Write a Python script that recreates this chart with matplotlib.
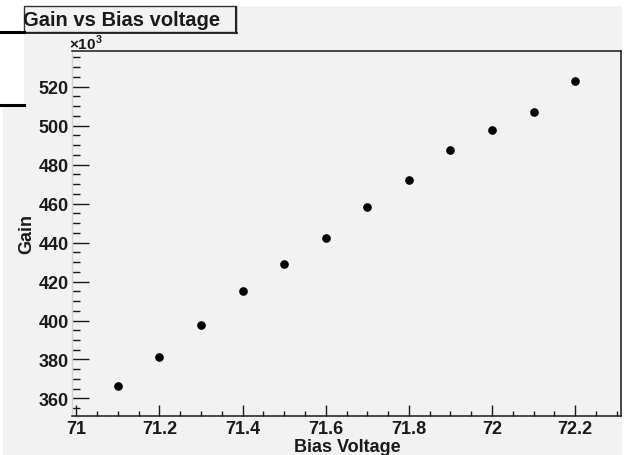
import matplotlib
matplotlib.use("Agg")
import matplotlib.pyplot as plt
import matplotlib.ticker as ticker
from matplotlib.patches import Rectangle
from matplotlib.lines import Line2D

# data (gain in units of 10^3)
bias_voltage = [71.1, 71.2, 71.3, 71.4, 71.5, 71.6, 71.7, 71.8, 71.9, 72.0, 72.1, 72.2]
gain_k = [366.6, 381.4, 397.5, 415.2, 429.0, 442.4, 458.4, 472.3, 487.6, 497.7, 507.1, 522.7]

title = "Gain vs Bias voltage"
xlabel = "Bias Voltage"
ylabel = "Gain"

W, H = 625, 456
PAD = "#f2f2f2"
INK = "#1a1a1a"

plt.rcParams['font.family'] = ['Liberation Sans', 'DejaVu Sans']
plt.rcParams['font.weight'] = 'bold'
plt.rcParams['mathtext.fontset'] = 'custom'
plt.rcParams['mathtext.rm'] = 'Liberation Sans:bold'
plt.rcParams['mathtext.bf'] = 'Liberation Sans:bold'

fig = plt.figure(figsize=(W / 100, H / 100), dpi=100)
fig.patch.set_facecolor("white")


def px(x, y):
    # pixel (from top-left) -> figure fraction
    return x / W, 1 - y / H


# grey pad behind everything
fig.patches.append(Rectangle(px(3, 456), 619 / W, 449 / H, transform=fig.transFigure,
                             facecolor=PAD, edgecolor="none", zorder=-10))
# white corner left of the title box
fig.patches.append(Rectangle(px(0, 33), 24 / W, 33 / H, transform=fig.transFigure,
                             facecolor="white", edgecolor="none", zorder=-9))

l, t = 72, 52
r, b = 621, 417
ax = fig.add_axes([l / W, 1 - b / H, (r - l) / W, (b - t) / H])
ax.set_zorder(1)
ax.set_facecolor(PAD)

ax.plot(bias_voltage, gain_k, "o", color="black", markersize=5.2, zorder=3)

ax.set_xlim(70.99, 72.31)
ax.set_ylim(351.0, 538.3)

ax.xaxis.set_major_locator(ticker.MultipleLocator(0.2))
ax.xaxis.set_minor_locator(ticker.MultipleLocator(0.05))
ax.xaxis.set_major_formatter(ticker.FuncFormatter(lambda v, p: "%g" % round(v, 2)))
ax.yaxis.set_major_locator(ticker.MultipleLocator(20))
ax.yaxis.set_minor_locator(ticker.MultipleLocator(5))
ax.yaxis.set_major_formatter(ticker.FuncFormatter(lambda v, p: "%d" % v))

ax.tick_params(axis="x", which="major", direction="in", length=8, width=1,
               color=INK, labelsize=13, pad=3, labelcolor=INK)
ax.tick_params(axis="x", which="minor", direction="in", length=3.6, width=1, color=INK)
ax.tick_params(axis="y", which="major", direction="in", length=12, width=1,
               color=INK, labelsize=13, pad=2.5, labelcolor=INK)
ax.tick_params(axis="y", which="minor", direction="in", length=5.8, width=1, color=INK)
ax.tick_params(top=False, right=False)

for side in ["top", "right", "bottom"]:
    ax.spines[side].set_color(INK)
    ax.spines[side].set_linewidth(1.1)
ax.spines["left"].set_color("#d4d4d4")
ax.spines["left"].set_linewidth(1.0)

# exponent label above the y axis
fig.text(*px(69, 50), r"$\times10^{3}$", fontsize=11, color=INK,
         ha="left", va="baseline", zorder=5)

# axis titles
fig.text(*px(347, 448), xlabel, fontsize=13, color=INK, ha="center", va="center", zorder=5)
fig.text(*px(27, 234), ylabel, fontsize=13, color=INK, ha="center", va="center",
         rotation=90, zorder=5)

# title box
fig.patches.append(Rectangle(px(24, 33), 212 / W, 26 / H, transform=fig.transFigure,
                             facecolor=PAD, edgecolor="#333333", linewidth=1.0, zorder=2))
fig.lines.append(Line2D([236 / W, 236 / W], [1 - 8 / H, 1 - 34 / H],
                        transform=fig.transFigure, color="#222222", linewidth=1.5, zorder=3))
fig.lines.append(Line2D([24 / W, 237 / W], [1 - 33.5 / H, 1 - 33.5 / H],
                        transform=fig.transFigure, color="#222222", linewidth=1.3, zorder=3))
fig.text(*px(23, 21), title, fontsize=14.5, color=INK, ha="left", va="center", zorder=4)

# partly hidden stats box at the far left
fig.patches.append(Rectangle(px(0, 107), 24 / W, 75 / H, transform=fig.transFigure,
                             facecolor="white", edgecolor="none", zorder=5))
for yy in (33, 106):
    fig.lines.append(Line2D([0, 24 / W], [1 - yy / H, 1 - yy / H],
                            transform=fig.transFigure, color="black", linewidth=2.2, zorder=6))

fig.savefig("out.png", dpi=100, facecolor=fig.get_facecolor())
